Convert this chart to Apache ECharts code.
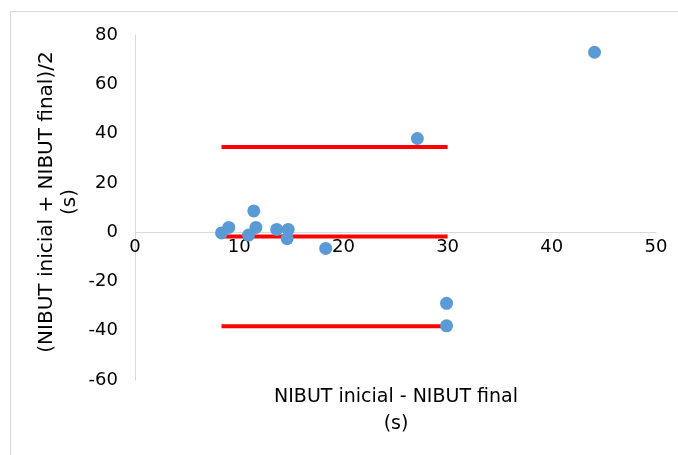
<!DOCTYPE html>
<html>
<head>
<meta charset="utf-8">
<script src="https://cdn.jsdelivr.net/npm/echarts@6/dist/echarts.min.js"></script>
<style>
html,body{margin:0;padding:0;background:#fff;}
#chart{width:678px;height:455px;}
</style>
</head>
<body>
<div id="chart"></div>
<script>
// Data
var xValues = [8.3, 9.0, 11.4, 11.6, 10.9, 13.6, 14.7, 14.6, 18.3, 27.1, 44.1, 29.9, 29.9];
var yValues = [-0.3, 1.9, 8.6, 1.9, -1.2, 1.1, 1.1, -2.6, -6.6, 38.0, 73.0, -28.9, -38.0];
var limitX = [8.3, 30.0];
var upperLimit = 34.6;
var meanDiff = -1.8;
var lowerLimit = -38.2;
var xTicks = [0, 10, 20, 30, 40, 50];
var yTicks = [-60, -40, -20, 0, 20, 40, 60, 80];
var xTitle = 'NIBUT inicial - NIBUT final\n(s)';
var yTitle = '(NIBUT inicial + NIBUT final)/2\n(s)';

var FONT = '"DejaVu Sans", sans-serif';
var points = xValues.map(function (x, i) { return [x, yValues[i]]; });
function hline(v) { return [[limitX[0], v], [limitX[1], v]]; }

var GRID = { left: 135, right: 22, top: 35, bottom: 75 };
var chart = echarts.init(document.getElementById('chart'));
function build(xOffset) {
  return {
    animation: false,
    backgroundColor: '#ffffff',
    grid: GRID,
    xAxis: {
      type: 'value', min: xTicks[0], max: xTicks[xTicks.length - 1], interval: 10,
      offset: xOffset,
      axisLine: { onZero: false, lineStyle: { color: '#d9d9d9', width: 1 } },
      axisTick: { show: false },
      splitLine: { show: false },
      axisLabel: { color: '#000', fontSize: 18, fontFamily: FONT, margin: 6 }
    },
    yAxis: {
      type: 'value', min: yTicks[0], max: yTicks[yTicks.length - 1], interval: 20,
      axisLine: { show: true, onZero: false, lineStyle: { color: '#d9d9d9', width: 1 } },
      axisTick: { show: false },
      splitLine: { show: false },
      axisLabel: { color: '#000', fontSize: 18, fontFamily: FONT, margin: 17 }
    },
    graphic: [
      { type: 'rect', shape: { x: 10.5, y: 11.5, width: 700, height: 500 }, style: { fill: 'none', stroke: '#d9d9d9', lineWidth: 1 }, z: -1 },
      { type: 'text', x: 396, y: 411, style: { text: xTitle, font: '19px ' + FONT, fill: '#000', textAlign: 'center', textVerticalAlign: 'middle', lineHeight: 27 } },
      { type: 'text', x: 58, y: 202, rotation: Math.PI / 2, style: { text: yTitle, font: '20px ' + FONT, fill: '#000', textAlign: 'center', textVerticalAlign: 'middle', lineHeight: 23 } }
    ],
    series: [
      { type: 'line', data: hline(upperLimit), symbol: 'none', lineStyle: { color: '#ff0000', width: 4 }, z: 1 },
      { type: 'line', data: hline(meanDiff), symbol: 'none', lineStyle: { color: '#ff0000', width: 4 }, z: 1 },
      { type: 'line', data: hline(lowerLimit), symbol: 'none', lineStyle: { color: '#ff0000', width: 4 }, z: 1 },
      { type: 'scatter', data: points, symbol: 'circle', symbolSize: 13, itemStyle: { color: '#5b9bd5', opacity: 1 }, z: 3 }
    ]
  };
}
chart.setOption(build(0));
// place the x axis (line + labels) at y = 0, as in the reference
var zeroPx = chart.convertToPixel({ yAxisIndex: 0 }, 0);
var bottomPx = 455 - GRID.bottom;
chart.setOption(build(-(bottomPx - zeroPx)));
</script>
</body>
</html>
